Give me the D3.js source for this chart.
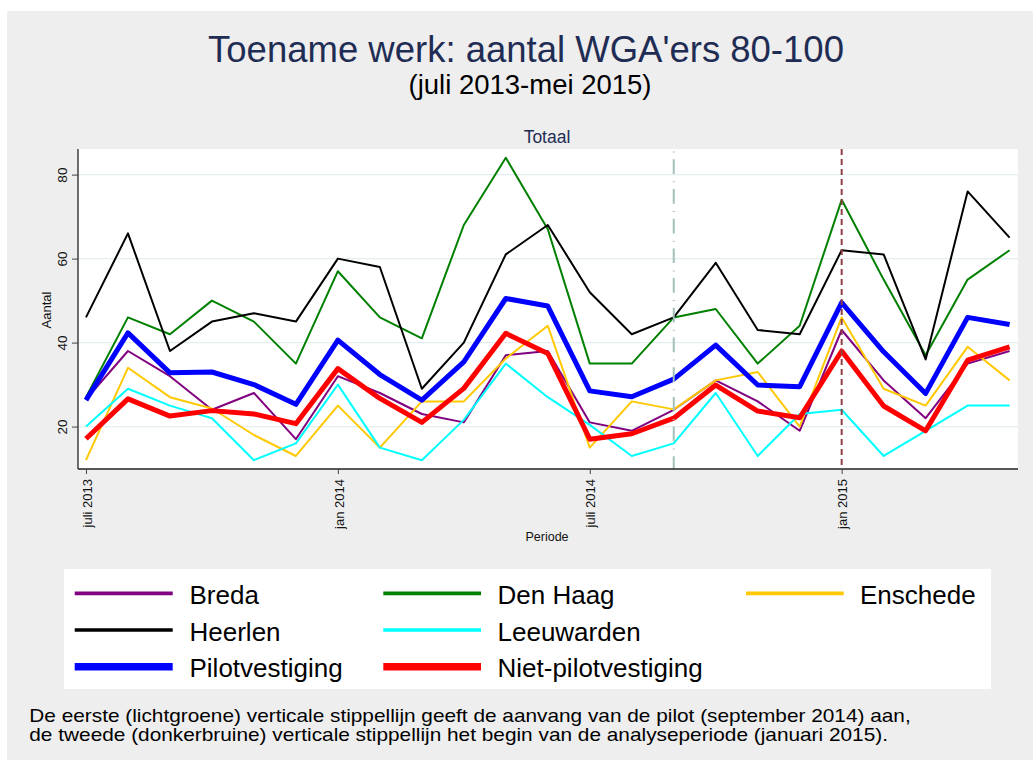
<!DOCTYPE html>
<html>
<head>
<meta charset="utf-8">
<script src="https://cdn.jsdelivr.net/npm/d3@7"></script>
<style>
  html, body { margin: 0; padding: 0; background: #ffffff; }
  svg { display: block; font-family: "Liberation Sans", Arial, Helvetica, sans-serif; }
</style>
</head>
<body>
<svg id="chart" width="1033" height="760"></svg>
<script>
// ---- data ----
const periods = ["2013-07","2013-08","2013-09","2013-10","2013-11","2013-12",
                 "2014-01","2014-02","2014-03","2014-04","2014-05","2014-06",
                 "2014-07","2014-08","2014-09","2014-10","2014-11","2014-12",
                 "2015-01","2015-02","2015-03","2015-04","2015-05"];
const tickPeriods = ["2013-07","2014-01","2014-07","2015-01"];
const tickLabels  = ["juli 2013","jan 2014","juli 2014","jan 2015"];
const yTicks = [20, 40, 60, 80];

const seriesNames = ["Breda","Den Haag","Enschede","Heerlen","Leeuwarden","Pilotvestiging","Niet-pilotvestiging"];
const breda      = [26.5, 38, 32, 24, 28, 17, 32, 28, 23, 21, 37, 38, 21, 19, 24, 31, 26, 19, 43, 31, 22, 35, 38];
const denHaag    = [27, 46, 42, 50, 45, 35, 57, 46, 41, 68, 84, 67, 35, 35, 46, 48, 35, 44, 74, 55, 37, 55, 62];
const enschede   = [12, 34, 27, 24.3, 18, 13, 25, 15, 26, 26, 36.2, 44, 15, 26, 24.1, 31, 33, 20, 46, 29, 25, 39, 31];
const heerlen    = [46, 66, 38, 45, 47, 45, 60, 58, 29, 40, 61, 68, 52, 42, 46, 59, 43, 42, 62, 61, 36, 76, 65];
const leeuwarden = [20, 29, 25, 22, 12, 16, 30, 15, 12, 21.6, 35, 27, 20.4, 13, 16, 28, 13, 23, 24, 13, 19, 25, 25];
const pilot      = [26.3, 42.3, 32.8, 33, 30, 25.3, 40.6, 32.4, 26.3, 35.4, 50.5, 48.7, 28.5, 27.1, 31.3, 39.4, 29.9, 29.5, 49.5, 37.8, 27.9, 46, 44.3];
const nietPilot  = [17.1, 26.6, 22.5, 23.8, 23, 20.7, 33.8, 26.7, 21, 29.1, 42.2, 37.4, 17, 18.3, 22, 29.9, 23.7, 22.1, 38, 24.9, 19, 35.8, 39];
const seriesValues = [breda, denHaag, enschede, heerlen, leeuwarden, pilot, nietPilot];
const seriesColors = ["#800080","#008000","#ffc800","#000000","#00ffff","#0000ff","#ff0000"];
const seriesThick  = [false,false,false,false,false,true,true];

const xLinePeriods = ["2014-09","2015-01"];
const notes = ["De eerste (lichtgroene) verticale stippellijn geeft de aanvang van de pilot (september 2014) aan,",
               "de tweede (donkerbruine) verticale stippellijn het begin van de analyseperiode (januari 2015)."];

// ---- layout ----
const svg = d3.select("#chart");
const W = 1033, H = 760;
const plot = {left: 78, right: 1018, top: 149, bottom: 469};
const font = '"Liberation Sans", Arial, Helvetica, sans-serif';

svg.append("rect").attr("x",0).attr("y",0).attr("width",W).attr("height",H).attr("fill","#ffffff");
svg.append("rect").attr("x",7).attr("y",11).attr("width",W-7).attr("height",H-11).attr("fill","#eeeeee");
svg.append("rect").attr("x",plot.left).attr("y",plot.top)
   .attr("width",plot.right-plot.left).attr("height",plot.bottom-plot.top).attr("fill","#ffffff");

const idx = p => periods.indexOf(p);
const x = d3.scaleLinear().domain([-0.19, 22.2]).range([plot.left, plot.right]);
const y = d3.scaleLinear().domain([9.9, 86.1]).range([plot.bottom, plot.top]);

// gridlines
svg.append("g").selectAll("line").data(yTicks).join("line")
  .attr("x1",plot.left).attr("x2",plot.right)
  .attr("y1",d=>y(d)).attr("y2",d=>y(d))
  .attr("stroke","#e4eef0").attr("stroke-width",1.2);

// series
const line = d3.line().x((d,i)=>x(i)).y(d=>y(d));
const gS = svg.append("g");
seriesValues.forEach((vals,k)=>{
  gS.append("path").datum(vals).attr("d",line)
    .attr("fill","none").attr("stroke",seriesColors[k])
    .attr("stroke-width",seriesThick[k]?5:2)
    .attr("stroke-linejoin","round");
});

// vertical reference lines
svg.append("line")
  .attr("x1",x(idx(xLinePeriods[0]))).attr("x2",x(idx(xLinePeriods[0])))
  .attr("y1",plot.top).attr("y2",plot.bottom)
  .attr("stroke","#a3c0ba").attr("stroke-width",2)
  .attr("stroke-dasharray","14.7,7.3,1,6.7").attr("stroke-dashoffset",19.4);
svg.append("line")
  .attr("x1",x(idx(xLinePeriods[1]))).attr("x2",x(idx(xLinePeriods[1])))
  .attr("y1",plot.top).attr("y2",plot.bottom)
  .attr("stroke","#8f3f46").attr("stroke-width",2)
  .attr("stroke-dasharray","6,4");

// axes
const yAxis = d3.axisLeft(y).tickValues(yTicks).tickSize(6).tickFormat(d3.format("d"));
const gy = svg.append("g").attr("transform",`translate(${plot.left},0)`).call(yAxis);
gy.select(".domain").attr("stroke","#222").attr("stroke-width",1.3).attr("d",`M0,${plot.bottom}V${plot.top}`);
gy.selectAll(".tick line").attr("stroke","#444");
gy.selectAll(".tick text")
  .attr("transform","rotate(-90)")
  .attr("x",0).attr("y",-11.5).attr("dy",0)
  .attr("text-anchor","middle")
  .style("font-family",font).style("font-size","13.5px").attr("fill","#111");

const xAxis = d3.axisBottom(x).tickValues(tickPeriods.map(idx)).tickSize(5)
  .tickFormat((d,i)=>tickLabels[i]);
const gx = svg.append("g").attr("transform",`translate(0,${plot.bottom})`).call(xAxis);
gx.select(".domain").attr("stroke","#222").attr("stroke-width",1.3).attr("d",`M${plot.left},0H${plot.right}`);
gx.selectAll(".tick line").attr("stroke","#444");
gx.selectAll(".tick text")
  .attr("transform","rotate(-90)")
  .attr("x",-10).attr("y",0).attr("dy","0.4em")
  .attr("text-anchor","end")
  .style("font-family",font).style("font-size","13px").attr("fill","#111");

// axis titles
svg.append("text").attr("transform","translate(50.5,310) rotate(-90)")
  .attr("text-anchor","middle").style("font-size","13px").attr("fill","#111").text("Aantal");
svg.append("text").attr("x",547).attr("y",540.5)
  .attr("text-anchor","middle").style("font-size","12.5px").attr("fill","#111").text("Periode");

// titles
svg.append("text").attr("x",526).attr("y",61.7).attr("text-anchor","middle")
  .style("font-size","36.5px").attr("fill","#1f2d55").text("Toename werk: aantal WGA'ers 80-100");
svg.append("text").attr("x",530).attr("y",94).attr("text-anchor","middle")
  .style("font-size","27.5px").attr("fill","#000").text("(juli 2013-mei 2015)");
svg.append("text").attr("x",547).attr("y",142.7).attr("text-anchor","middle")
  .style("font-size","17.5px").attr("fill","#1f2d55").text("Totaal");

// legend
svg.append("rect").attr("x",64).attr("y",569).attr("width",927).attr("height",120).attr("fill","#ffffff");
const legCols = [{x1:74.7,x2:172.7,tx:189.5},{x1:383.3,x2:481,tx:497.5},{x1:746,x2:843.7,tx:860}];
const legRows = [593.3, 630, 666.7];
// slot (row, col) for each series, as laid out in the reference
const legSlots = [[0,0],[0,1],[0,2],[1,0],[1,1],[2,0],[2,1]];
const gL = svg.append("g");
seriesNames.forEach((name,k)=>{
  const c = legCols[legSlots[k][1]], r = legRows[legSlots[k][0]];
  gL.append("line").attr("x1",c.x1).attr("x2",c.x2).attr("y1",r).attr("y2",r)
    .attr("stroke",seriesColors[k]).attr("stroke-width",seriesThick[k]?7.5:3.7);
  gL.append("text").attr("x",c.tx).attr("y",r+10.7)
    .style("font-size","26px").attr("fill","#000").text(name);
});

// footnote
const noteLen = [881.4, 858.7];
svg.append("g").selectAll("text").data(notes).join("text")
  .attr("x",29.3).attr("y",(d,i)=>721.5+i*19.4)
  .attr("textLength",(d,i)=>noteLen[i]).attr("lengthAdjust","spacingAndGlyphs")
  .style("font-size","19px").attr("fill","#000").text(d=>d);
</script>
</body>
</html>
